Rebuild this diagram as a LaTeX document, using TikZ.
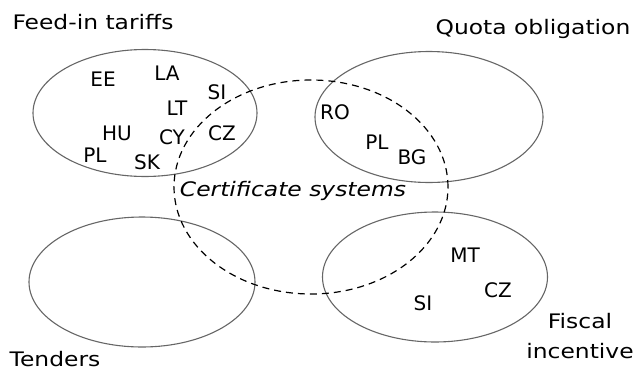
\documentclass[tikz,border=0pt]{standalone}
\usepackage{fontspec}
\setmainfont{DejaVu Sans}
\newfontfamily\widefont{DejaVu Sans}[FakeStretch=1.17]
\usetikzlibrary{shapes.geometric}

\tikzset{
		scheme/.style={
			x=1pt,y=-1pt,
			every node/.style={font=\fontsize{20}{24}\selectfont}
		},
		group/.style={ellipse,draw=black!60,line width=1.1pt,inner sep=0pt},
		certif/.style={ellipse,draw,line width=1.2pt,dash pattern=on 7pt off 5pt,inner sep=0pt},
		title/.style={font=\widefont\fontsize{20}{30}\selectfont},
		country/.style={inner sep=0pt}
	}

\begin{document}
\begin{tikzpicture}[scheme]
				\useasboundingbox (0,0) rectangle (635,370);
				% policy groups
				\node[group,minimum width=224pt,minimum height=127pt] (feedin) at (145,113) {};
				\node[group,minimum width=228pt,minimum height=131pt] (quota) at (429,117) {};
				\node[group,minimum width=226pt,minimum height=130pt] (tenders) at (142,282) {};
				\node[group,minimum width=225pt,minimum height=130pt] (fiscal) at (435,277) {};
				\node[certif,minimum width=274pt,minimum height=214pt] (certificate) at (311,187) {};
				% group titles
				\node[title] (feedinlabel) at (93,22) {Feed-in tariffs};
				\node[title] (quotalabel) at (533,29) {Quota obligation};
				\node[title] (tenderslabel) at (55,359) {Tenders};
				\node[title,align=center] (fiscallabel) at (580,336) {Fiscal\\incentive};
				\node[title] (certificatelabel) at (293,191) {\itshape Certificate systems};
				% feed-in tariffs
				\node[country] (ee) at (103,79) {EE};
				\node[country] (la) at (167,73) {LA};
				\node[country] (si1) at (217,92) {SI};
				\node[country] (lt) at (177,108) {LT};
				\node[country] (hu) at (117,133) {HU};
				\node[country] (cy) at (172,137) {CY};
				\node[country] (cz1) at (222,133) {CZ};
				\node[country] (pl1) at (95,155) {PL};
				\node[country] (sk) at (147,162) {SK};
				% quota obligation
				\node[country] (ro) at (335,112) {RO};
				\node[country] (pl2) at (377,142) {PL};
				\node[country] (bg) at (412,157) {BG};
				% fiscal incentive
				\node[country] (mt) at (465,255) {MT};
				\node[country] (cz2) at (498,290) {CZ};
				\node[country] (si2) at (423,303) {SI};
			\end{tikzpicture}
\end{document}
